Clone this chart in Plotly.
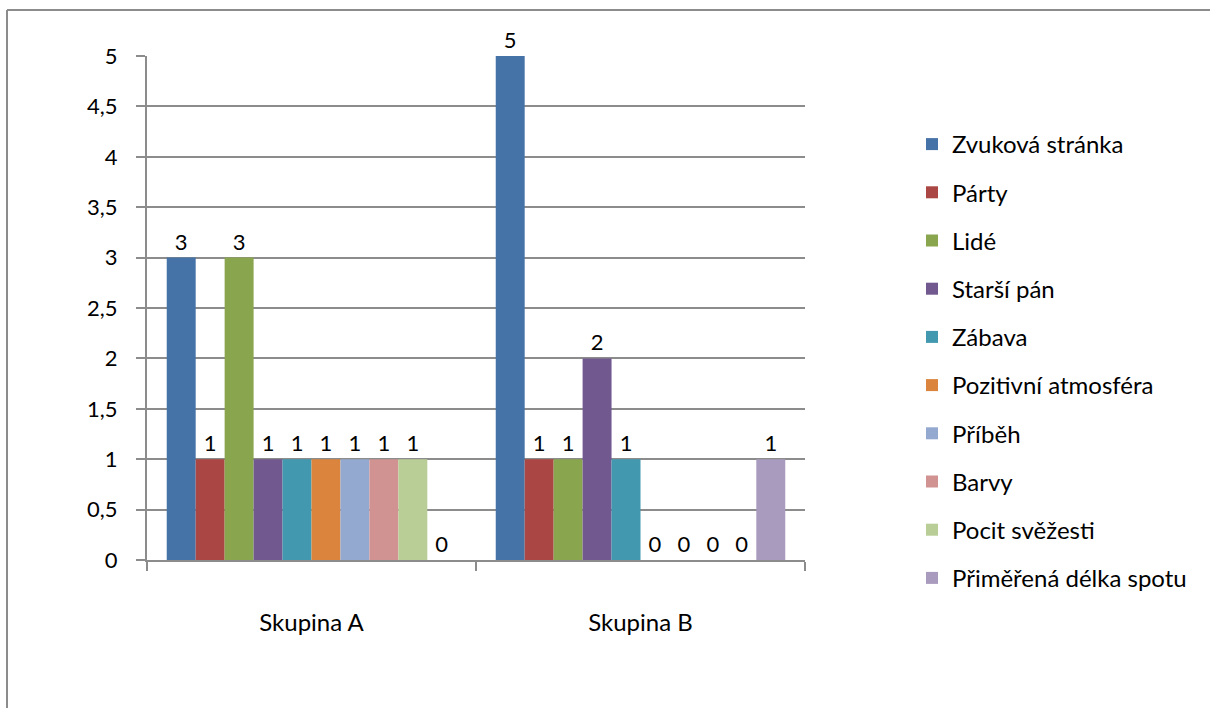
import plotly.graph_objects as go

# Groups on the category axis
groups = ["Skupina A", "Skupina B"]

# Series names (legend order)
series = [
    "Zvuková stránka",
    "Párty",
    "Lidé",
    "Starší pán",
    "Zábava",
    "Pozitivní atmosféra",
    "Příběh",
    "Barvy",
    "Pocit svěžesti",
    "Přiměřená délka spotu",
]

# Counts per series: [Skupina A, Skupina B]
zvukova = [3, 5]
party = [1, 1]
lide = [3, 1]
starsi_pan = [1, 2]
zabava = [1, 1]
pozitivni = [1, 0]
pribeh = [1, 0]
barvy = [1, 0]
pocit = [1, 0]
primerena = [0, 1]

values = [zvukova, party, lide, starsi_pan, zabava,
          pozitivni, pribeh, barvy, pocit, primerena]

colors = ["#4572A7", "#AA4643", "#89A54E", "#71588F", "#4198AF",
          "#DB843D", "#93A9CF", "#D19392", "#B9CD96", "#A99BBD"]

y_ticks = [0, 0.5, 1, 1.5, 2, 2.5, 3, 3.5, 4, 4.5, 5]

FONT = "Lato, Calibri, Carlito, sans-serif"
GRID = "#8C8C8C"

# Plot-area geometry in pixels, used to place the frame lines
L, R, T, B = 147, 405, 56, 148
W, H = 1210, 708
PW, PH = W - L - R, H - T - B


def px_x(x):
    return (x - L) / PW


def px_y(y):
    return (H - B - y) / PH


fig = go.Figure()
for i, (name, vals, col) in enumerate(zip(series, values, colors)):
    fig.add_trace(go.Bar(
        name=name,
        x=groups,
        y=vals,
        marker=dict(color=col, line=dict(width=0)),
        text=[str(v) for v in vals],
        textposition="outside",
        textfont=dict(size=22, color="black", family=FONT),
        cliponaxis=False,
        legendgroup=f"g{i}",
    ))

fig.update_layout(
    width=W,
    height=H,
    barmode="group",
    bargap=0.12,
    bargroupgap=0,
    separators=", ",
    plot_bgcolor="white",
    paper_bgcolor="white",
    font=dict(family=FONT, size=22, color="black"),
    margin=dict(l=L, r=R, t=T, b=B),
    legend=dict(
        x=px_x(912),
        xanchor="left",
        y=px_y(122),
        yanchor="top",
        font=dict(size=24, family=FONT, color="black"),
        tracegroupgap=14,
        itemwidth=30,
        maxheight=660,
        bgcolor="rgba(0,0,0,0)",
    ),
    shapes=[
        # chart frame: top and left edges
        dict(type="line", xref="paper", yref="paper",
             x0=px_x(7), x1=px_x(1210), y0=px_y(10), y1=px_y(10),
             line=dict(color="#8C8C8C", width=2), layer="below"),
        dict(type="line", xref="paper", yref="paper",
             x0=px_x(7), x1=px_x(7), y0=px_y(10), y1=px_y(708),
             line=dict(color="#8C8C8C", width=2), layer="below"),
    ],
)

fig.update_yaxes(
    range=[0, 5],
    tickvals=y_ticks,
    showgrid=True,
    gridcolor=GRID,
    gridwidth=2,
    showline=True,
    linecolor=GRID,
    linewidth=2,
    ticks="outside",
    ticklen=9,
    tickwidth=2,
    tickcolor=GRID,
    ticklabelstandoff=14,
    tickfont=dict(size=22, family=FONT, color="black"),
    zeroline=False,
)

fig.update_xaxes(
    showline=True,
    linecolor=GRID,
    linewidth=2,
    ticks="outside",
    tickson="boundaries",
    ticklen=9,
    tickwidth=2,
    tickcolor=GRID,
    ticklabelstandoff=40,
    tickfont=dict(size=24, family=FONT, color="black"),
    showgrid=False,
)

fig.write_html("out.html")
